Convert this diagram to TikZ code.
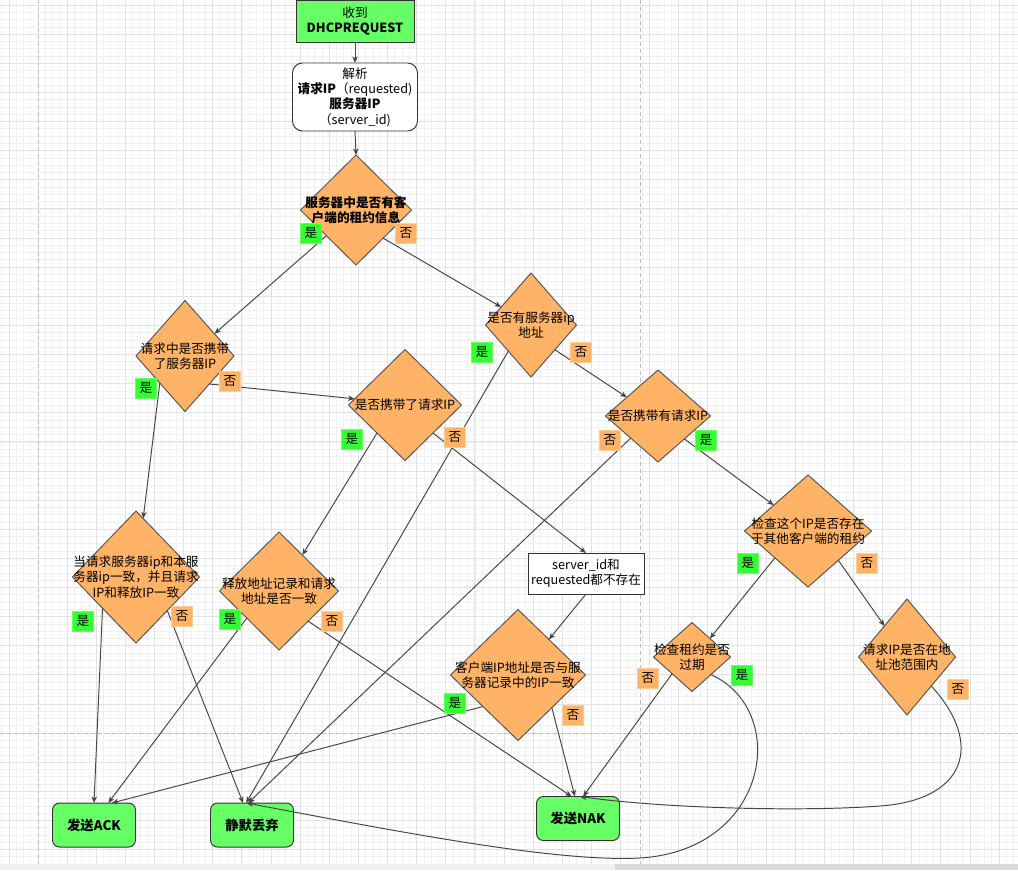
\documentclass[tikz,border=0pt]{standalone}
\usepackage{fontspec}
\setmainfont{Noto Sans CJK SC}
\usetikzlibrary{shapes.geometric,arrows.meta}
\definecolor{dfill}{HTML}{FFB366}
\definecolor{dstroke}{HTML}{555555}
\definecolor{bstroke}{HTML}{333333}
\definecolor{tgreen}{HTML}{66FF66}
\definecolor{lgreen}{HTML}{33FF33}
\definecolor{lgreenb}{HTML}{66FF66}
\definecolor{lorangeb}{HTML}{FFCC99}
\definecolor{ecol}{HTML}{444444}
\definecolor{gminorc}{HTML}{F1F1F1}
\definecolor{gmajorc}{HTML}{E2E2E2}
\definecolor{pagec}{HTML}{BEBEBE}
\newcommand\fsz{\fontsize{7.2pt}{8.7pt}\selectfont}
\newcommand\tfsz{\fontsize{7.6pt}{9pt}\selectfont}
\begin{document}
\begin{tikzpicture}[x=0.2mm, y=-0.2mm,
  every node/.style={font=\fsz, text=black},
  dsz/.style n args={2}{minimum width=#1*0.2mm, minimum height=#2*0.2mm},
  dia/.style={diamond, draw=dstroke, fill=dfill, line width=0.55pt, inner sep=0pt, outer sep=0pt},
  txt/.style={align=center, inner sep=0pt},
  boxw/.style={rectangle, draw=bstroke, fill=white, line width=0.55pt, inner sep=0pt, outer sep=0pt, align=center},
  term/.style={rectangle, rounded corners=1.4mm, draw=bstroke, fill=tgreen, line width=0.55pt, inner sep=0pt, outer sep=0pt, dsz={83}{44}, font=\tfsz\bfseries},
  yeslab/.style={rectangle, fill=lgreen, draw=lgreenb, line width=0.5pt, dsz={21}{20}, inner sep=0pt},
  nolab/.style={rectangle, fill=dfill, draw=lorangeb, line width=0.5pt, dsz={21}{20}, inner sep=0pt},
  edge/.style={draw=ecol, line width=0.55pt, -{Stealth[length=1.3mm,width=1.05mm,inset=0.35mm]}},
  gminor/.style={draw=gminorc, line width=0.35pt},
  gmajor/.style={draw=gmajorc, line width=0.4pt},
  pageline/.style={draw=pagec, line width=0.45pt, dash pattern=on 0.7mm off 0.7mm}
]
\useasboundingbox (0,0) rectangle (1018,870);
\fill[white] (0,0) rectangle (1018,870);
% grid
\foreach \i in {-5,...,134} \draw[gminor] ({38+\i*7.28},0) -- ({38+\i*7.28},864);
\foreach \i in {-100,...,18} \draw[gminor] (0,{733+\i*7.28}) -- (1018,{733+\i*7.28});
\foreach \i in {-1,...,33} \draw[gmajor] ({38+\i*29.12},0) -- ({38+\i*29.12},864);
\foreach \i in {-25,...,4} \draw[gmajor] (0,{733+\i*29.12}) -- (1018,{733+\i*29.12});
\draw[pageline] (38,0) -- (38,864);
\draw[pageline] (640,0) -- (640,864);
\draw[pageline] (0,733) -- (1018,733);
\fill[black!6] (0,864) rectangle (1018,870);
\fill[black!15] (615,864) rectangle (1018,870);

% nodes
\node[rectangle, draw=bstroke, fill=tgreen, line width=0.55pt, inner sep=0pt, dsz={118}{42}, align=center] (start) at (355,21) {收到\\\textbf{DHCPREQUEST}};
\node[boxw, rounded corners=2mm, dsz={125}{68}] (parse) at (355,97) {解析\\\textbf{请求IP}（requested)\\\textbf{服务器IP}\\（server\_id)};

\node[dia, dsz={111}{110}] (d1) at (356,210) {};
\node[txt] (d1t) at (d1.center) {\textbf{服务器中是否有客}\\\textbf{户端的租约信息}};

\node[dia, dsz={98}{111}] (d2) at (185,356) {};
\node[txt] (d2t) at (d2.center) {请求中是否携带\\了服务器IP};

\node[dia, dsz={91}{104}] (d3) at (531,325) {};
\node[txt] (d3t) at (d3.center) {是否有服务器ip\\地址};

\node[dia, dsz={113}{111}] (d4) at (405,405) {};
\node[txt] (d4t) at (d4.center) {是否携带了请求IP};

\node[dia, dsz={105}{92}] (d5) at (658,416) {};
\node[txt] (d5t) at (d5.center) {是否携带有请求IP};

\node[dia, dsz={127}{112}] (d6) at (808,531) {};
\node[txt] (d6t) at (d6.center) {检查这个IP是否存在\\于其他客户端的租约};

\node[dia, dsz={127}{132}] (d7) at (136,577) {};
\node[txt] (d7t) at (d7.center) {当请求服务器ip和本服\\务器ip一致，并且请求\\IP和释放IP一致};

\node[dia, dsz={119}{118}] (d8) at (279,591) {};
\node[txt] (d8t) at (d8.center) {释放地址记录和请求\\地址是否一致};

\node[boxw, dsz={116}{41}] (rq) at (586,573.5) {server\_id和\\requested都不存在};

\node[dia, dsz={135}{131}] (d9) at (518,675) {};
\node[txt] (d9t) at (d9.center) {客户端IP地址是否与服\\务器记录中的IP一致};

\node[dia, dsz={77}{69}] (d10) at (692,657) {};
\node[txt] (d10t) at (d10.center) {检查租约是否\\过期};

\node[dia, dsz={97}{116}] (d11) at (907,657) {};
\node[txt] (d11t) at (d11.center) {请求IP是否在地\\址池范围内};

\node[term] (ack) at (94,825) {发送ACK};
\node[term] (drop) at (252,825) {静默丢弃};
\node[term] (nak) at (578,818.5) {发送NAK};

% edges
\draw[edge] (start.south) -- (parse.north);
\draw[edge] (parse.south) -- (d1.north);
\draw[edge] (d1.221) -- (d2.37);
\draw[edge] (d1.-46) -- (d3.149);
\draw[edge] (d2.-49) -- (d4.173);
\draw[edge] (d2.-133) -- (d7.83);
\draw[edge] (d3.-46) -- (d5.149);
\draw[edge] (d3.-131) -- (drop.105);
\draw[edge] (d4.-135.5) -- (d8.57);
\draw[edge] (d4.-45.5) -- (rq.north);
\draw[edge] (d5.-41) -- (d6.143);
\draw[edge] (d5.-141) -- (drop.100);
\draw[edge] (d6.-141) -- (d10.46);
\draw[edge] (d6.-44) -- (d11.126);
\draw[edge] (rq.south) -- (d9.49);
\draw[edge] (d7.-137) -- (ack.north);
\draw[edge] (d7.-47) -- (drop.112);
\draw[edge] (d8.-140) -- (ack.57);
\draw[edge] (d8.-46) -- (nak.106);
\draw[edge] (d9.-138) -- (ack.51);
\draw[edge] (d9.-44) -- (nak.98);
\draw[edge] (d10.-140) -- (nak.77);
\draw[edge] (d10.-43) .. controls (790,710) and (770,850) .. (640,858) .. controls (560,862) and (420,836) .. (drop.104);
\draw[edge] (d11.-50) .. controls (985,745) and (965,800) .. (880,806) .. controls (800,812) and (660,808) .. (nak.85);

% labels
\node[yeslab] (y1) at (311,233) {是};
\node[nolab] (n1) at (406,233) {否};
\node[yeslab] (y2) at (146,388) {是};
\node[nolab] (n2) at (230,381) {否};
\node[yeslab] (y3) at (482,352) {是};
\node[nolab] (n3) at (581,352) {否};
\node[yeslab] (y4) at (352,439) {是};
\node[nolab] (n4) at (455,437) {否};
\node[nolab] (n5) at (610,440) {否};
\node[yeslab] (y5) at (706,440) {是};
\node[yeslab] (y6) at (748,563) {是};
\node[nolab] (n6) at (867,563) {否};
\node[yeslab] (y7) at (83,621) {是};
\node[nolab] (n7) at (182,616) {否};
\node[yeslab] (y8) at (230,619) {是};
\node[nolab] (n8) at (332,621) {否};
\node[yeslab] (y9) at (455,703) {是};
\node[nolab] (n9) at (573,715) {否};
\node[nolab] (n10) at (648,678) {否};
\node[yeslab] (y10) at (742,675) {是};
\node[nolab] (n11) at (958,689) {否};
\end{tikzpicture}
\end{document}
